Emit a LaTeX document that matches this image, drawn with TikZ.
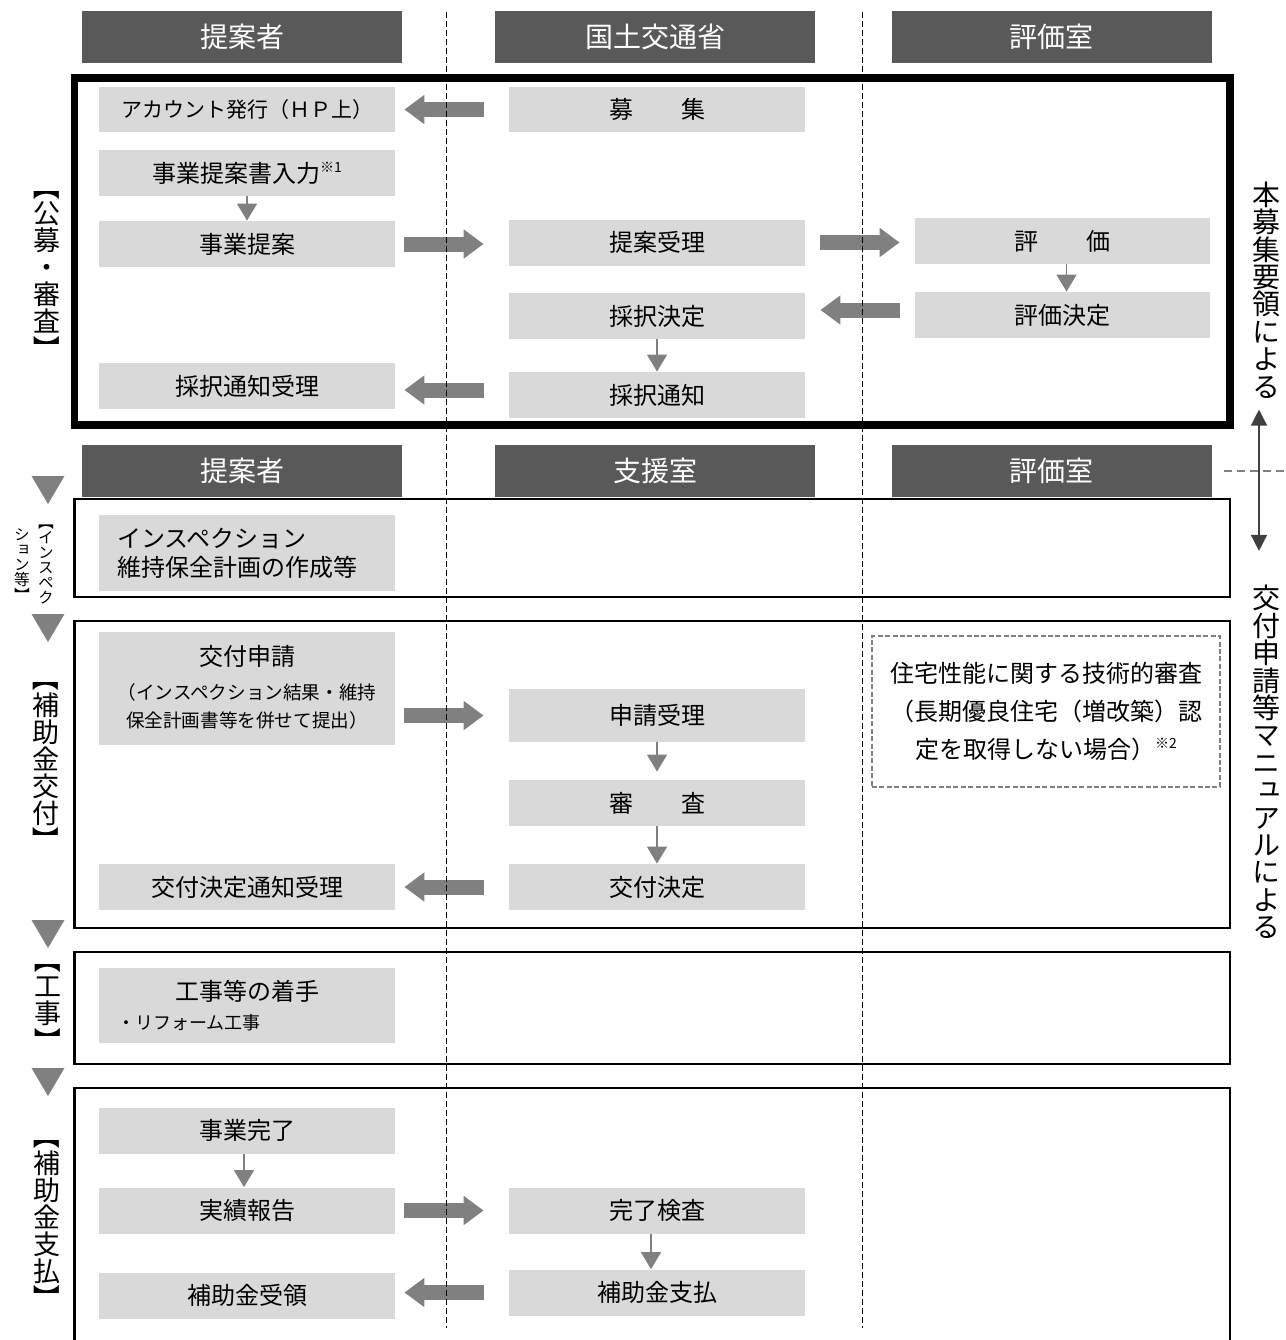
\documentclass[tikz,border=0pt]{standalone}
\usepackage{fontspec}
\setmainfont{Noto Sans CJK JP}
\newfontfamily\tatefont[RawFeature=+vert]{Noto Sans CJK JP}
\newfontfamily\yokofont{Noto Sans CJK JP}
\definecolor{HeaderFill}{HTML}{595959}
\definecolor{StepFill}{HTML}{D9D9D9}
\definecolor{FlowArrow}{HTML}{808080}
\definecolor{SideArrow}{HTML}{404040}
\usetikzlibrary{arrows.meta, positioning}

\tikzset{
  headbox/.style={fill=HeaderFill, text=white, minimum width=160pt, minimum height=26pt,
    inner sep=0pt, font=\fontsize{14}{16}\selectfont},
  stepbox/.style={fill=StepFill, minimum width=148pt, minimum height=23pt, inner sep=0pt,
    align=center, font=\fontsize{12}{14.5}\selectfont},
  lanebox/.style={draw, line width=1.2pt},
  bigarrow/.style={draw=FlowArrow, line width=7.5pt, -{Triangle[length=10pt, width=14pt]}},
  thinarrow/.style={draw=FlowArrow, line width=0.75pt, -{Triangle[length=8.5pt, width=10pt]}},
  tatelabel/.style={inner sep=0pt, align=center, font=\tatefont\fontsize{13.5}{13.5}\selectfont},
  lanesep/.style={line width=0.5pt, dash pattern=on 3pt off 1.5pt}
}

\newcommand\notemark[1]{\raisebox{0.4em}{\fontsize{7}{7}\selectfont ※#1}}
\newcommand\vopen{\rotatebox[origin=c]{-90}{\yokofont 【}}
\newcommand\vclose{\rotatebox[origin=c]{-90}{\yokofont 】}}

\begin{document}
\begin{tikzpicture}[x=0.5pt, y=-0.5pt]

    \def\colA{247}
    \def\colB{657}
    \def\colC{1062.5}

    \useasboundingbox (0,0) rectangle (1286,1340);

    % Cabeceras de columnas
    \node[headbox] (proposerTop) at (242,37) {提案者};
    \node[headbox] (ministry) at (655,37) {国土交通省};
    \node[headbox] (evalRoomTop) at (1051.5,37) {評価室};
    \node[headbox] (proposerMid) at (242,471) {提案者};
    \node[headbox] (supportRoom) at (655,471) {支援室};
    \node[headbox] (evalRoomMid) at (1051.5,471) {評価室};

    % Marcos de cada fase
    \draw[line width=3.75pt] (74.5,78) rectangle (1230,425);
    \draw[lanebox] (74.5,499) rectangle (1230,597);
    \draw[lanebox] (74.5,621) rectangle (1230,928);
    \draw[lanebox] (74.5,952) rectangle (1230,1064);
    \draw[lanebox] (74.5,1350) -- (74.5,1088) -- (1230,1088) -- (1230,1350);

    % Fase de convocatoria y evaluacion
    \node[stepbox, minimum height=22.5pt, font=\fontsize{10.5}{12}\selectfont] (account) at (\colA,109.5) {アカウント発行（ＨＰ上）};
    \node[stepbox, minimum height=22.5pt] (recruit) at (\colB,109.5) {募　　集};
    \node[stepbox] (entry) at (\colA,173) {事業提案書入力\notemark{1}};
    \node[stepbox] (proposal) at (\colA,244) {事業提案};
    \node[stepbox] (receipt) at (\colB,242.5) {提案受理};
    \node[stepbox, minimum width=147.5pt] (evaluation) at (\colC,241) {評　　価};
    \node[stepbox] (adoption) at (\colB,316) {採択決定};
    \node[stepbox, minimum width=147.5pt] (evalDecision) at (\colC,315) {評価決定};
    \node[stepbox] (notice) at (\colB,395) {採択通知};
    \node[stepbox] (noticeReceipt) at (\colA,386) {採択通知受理};

    \draw[bigarrow] ([xshift=-12.5pt]recruit.west) -- ([xshift=4.5pt]recruit.west -| account.east);
    \draw[bigarrow] ([xshift=4.5pt]proposal.east) -- ([xshift=-12.5pt]proposal.east -| receipt.west);
    \draw[bigarrow] ([xshift=7.5pt]receipt.east) -- ([xshift=-7.5pt]receipt.east -| evaluation.west);
    \draw[bigarrow] ([xshift=-7.5pt, yshift=2.5pt]evalDecision.west) -- ([xshift=7.5pt, yshift=2.5pt]evalDecision.west -| adoption.east);
    \draw[bigarrow] ([xshift=-12.5pt, yshift=2.5pt]notice.west) -- ([xshift=4.5pt, yshift=2.5pt]notice.west -| noticeReceipt.east);
    \draw[thinarrow] (entry) -- (proposal);
    \draw[thinarrow] ([xshift=2pt]evaluation.south) -- ([xshift=2pt]evalDecision.north);
    \draw[thinarrow] (adoption) -- (notice);

    % Fase de inspeccion
    \node[stepbox, minimum height=38pt, text width=130pt, align=left] (inspection) at (\colA,553) {インスペクション\\維持保全計画の作成等};

    % Fase de subvencion
    \node[stepbox, minimum height=56.5pt, font=\fontsize{12}{17}\selectfont] (application) at (\colA,688.5)
      {\raisebox{2.5pt}{交付申請}\\\fontsize{9.3}{14}\selectfont\raisebox{2.5pt}{（インスペクション結果・維持}\\[-3pt]\fontsize{9.3}{14}\selectfont\raisebox{2.5pt}{保全計画書等を併せて提出）}};
    \node[stepbox, minimum height=26.5pt] (appReceipt) at (\colB,715.5) {申請受理};
    \node[stepbox] (review) at (\colB,803) {審　　査};
    \node[stepbox] (grantDecision) at (\colB,887) {交付決定};
    \node[stepbox] (grantNotice) at (\colA,887) {交付決定通知受理};
    \node[draw=FlowArrow, line width=0.6pt, dash pattern=on 2.5pt off 1.2pt, minimum width=174pt, minimum height=75.5pt,
      inner sep=0pt, align=center, font=\fontsize{12}{19}\selectfont] (techReview) at (1046,711.5)
      {住宅性能に関する技術的審査\\（長期優良住宅（増改築）認\\定を取得しない場合）\notemark{2}};

    \draw[bigarrow] ([xshift=4.5pt]application.east |- appReceipt.west) -- ([xshift=-12.5pt]appReceipt.west);
    \draw[bigarrow] ([xshift=-12.5pt]grantDecision.west) -- ([xshift=4.5pt]grantDecision.west -| grantNotice.east);
    \draw[thinarrow, shorten >=4pt] (appReceipt) -- (review);
    \draw[thinarrow] (review) -- (grantDecision);

    % Fase de obra
    \node[stepbox, minimum height=37.5pt, text width=130pt, align=left] (works) at (\colA,1005.5)
      {\makebox[130pt]{工事等の着手}\\\fontsize{9}{15}\selectfont ・リフォーム工事};

    % Fase de pago
    \node[stepbox] (completion) at (\colA,1130.5) {事業完了};
    \node[stepbox] (report) at (\colA,1210.5) {実績報告};
    \node[stepbox] (finalCheck) at (\colB,1210.5) {完了検査};
    \node[stepbox] (grantReceipt) at (\colA,1295.5) {補助金受領};
    \node[stepbox] (payment) at (\colB,1292.5) {補助金支払};

    \draw[bigarrow] ([xshift=4.5pt]report.east) -- ([xshift=-12.5pt]report.east -| finalCheck.west);
    \draw[bigarrow] ([xshift=-12.5pt]payment.west) -- ([xshift=4.5pt]payment.west -| grantReceipt.east);
    \draw[thinarrow] ([xshift=-1.5pt]completion.south) -- ([xshift=-1.5pt]report.north);
    \draw[thinarrow] ([xshift=-3pt]finalCheck.south) -- ([xshift=-3pt]payment.north);

    % Etiquetas de fase a la izquierda
    \foreach \ty in {476,614,920,1068}
      \fill[FlowArrow] (31.5,\ty) -- (64.5,\ty) -- (48,\ty+28) -- cycle;
    \node[tatelabel] (lblKobo) at (47,267.5) {\vopen\\公\\募\\・\\審\\査\\\vclose};
    \node[tatelabel, font=\tatefont\fontsize{7.8}{7.5}\selectfont] (lblInspR) at (46,559) {\vopen\\イ\\ン\\ス\\ペ\\ク};
    \node[tatelabel, font=\tatefont\fontsize{7.8}{7.5}\selectfont] (lblInspL) at (22,566) {シ\\ョ\\ン\\等\\\vclose};
    \node[tatelabel] (lblKofu) at (46,759) {\vopen\\補\\助\\金\\交\\付\\\vclose};
    \node[tatelabel] (lblKoji) at (48,1000) {\vopen\\工\\事\\\vclose};
    \node[tatelabel] (lblShiharai) at (47,1217) {\vopen\\補\\助\\金\\支\\払\\\vclose};

    % Referencias a la derecha
    \node[tatelabel, font=\tatefont\fontsize{14}{13.7}\selectfont] (byGuide) at (1266,290) {本\\募\\集\\要\\領\\に\\よ\\る};
    \node[tatelabel, font=\tatefont\fontsize{14}{13.7}\selectfont] (byManual) at (1266,762) {交\\付\\申\\請\\等\\マ\\ニ\\ュ\\ア\\ル\\に\\よ\\る};
    \draw[SideArrow, line width=0.75pt, {Triangle[length=8pt, width=8pt]}-{Triangle[length=8pt, width=8pt]}]
      ([xshift=-3.5pt, yshift=-5.5pt]byGuide.south) -- ([xshift=-3.5pt, yshift=17pt]byManual.north);
    \draw[FlowArrow, line width=0.75pt, dash pattern=on 4pt off 2.5pt] ([xshift=6pt]evalRoomMid.east) -- ++(31pt,0);

    % Separadores de columnas
    \draw[lanesep] (446,12) -- (446,1328);
    \draw[lanesep] (862,12) -- (862,1328);
\end{tikzpicture}
\end{document}
